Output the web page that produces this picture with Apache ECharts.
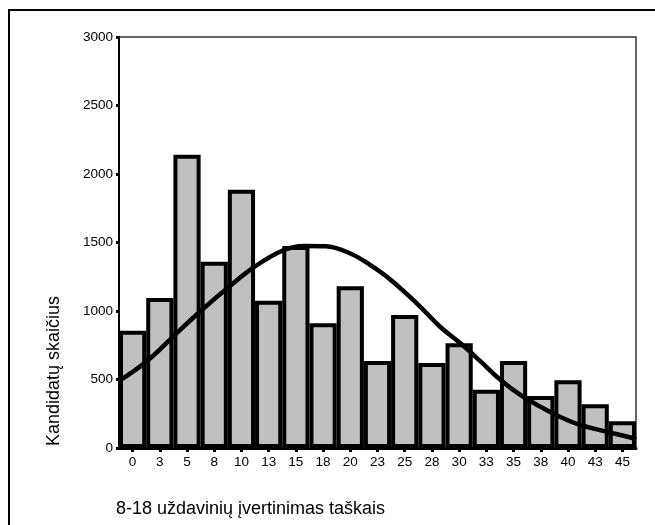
<!DOCTYPE html>
<html>
<head>
<meta charset="utf-8">
<script src="https://cdn.jsdelivr.net/npm/echarts@6/dist/echarts.min.js"></script>
<style>
html,body{margin:0;padding:0;background:#fff;}
#chart{width:655px;height:525px;}
</style>
</head>
<body>
<div id="chart"></div>
<script>
// Data
const categories = ['0','3','5','8','10','13','15','18','20','23','25','28','30','33','35','38','40','43','45'];
const counts = [855, 1095, 2140, 1360, 1885, 1075, 1475, 910, 1180, 635, 970, 620, 765, 425, 635, 380, 495, 320, 195];
// Normal curve points: [position in bar units (0..19), value]
const curveX = [0, 1, 2, 3, 4, 5, 6, 6.8, 7.6, 8.5, 9.2, 10, 11, 11.8, 12.55, 13.3, 14, 14.75, 15.5, 16.2, 16.95, 17.9, 18.9, 19];
const curveY = [490, 630, 815, 1000, 1170, 1325, 1440, 1475, 1472, 1420, 1340, 1225, 1045, 885, 764, 630, 500, 387, 300, 228, 168, 120, 71, 62];
const yTicks = {min: 0, max: 3000, interval: 500};
const xTitle = '8-18 uždavinių įvertinimas taškais';
const yTitle = 'Kandidatų skaičius';

const curveData = curveX.map((x, i) => [x, curveY[i]]);
const FONT = '"Liberation Sans", Arial, sans-serif';

const chart = echarts.init(document.getElementById('chart'), null, {renderer: 'canvas'});
chart.setOption({
  animation: false,
  backgroundColor: '#fff',
  grid: {left: 119, right: 19, top: 37, bottom: 77, show: true, borderColor: '#333', borderWidth: 1.5, backgroundColor: 'transparent'},
  xAxis: [{
    type: 'category',
    data: categories,
    boundaryGap: true,
    axisLine: {show: true, lineStyle: {color: '#000', width: 3}},
    axisTick: {show: true, alignWithLabel: true, length: 4, lineStyle: {color: '#000', width: 3}},
    axisLabel: {color: '#000', fontSize: 13.5, fontFamily: FONT, margin: 7, interval: 0},
    splitLine: {show: false}
  }, {
    type: 'value',
    min: 0, max: 19,
    show: false
  }],
  yAxis: {
    type: 'value',
    min: yTicks.min, max: yTicks.max, interval: yTicks.interval,
    axisLine: {show: true, lineStyle: {color: '#000', width: 2}},
    axisTick: {show: true, length: 3, lineStyle: {color: '#000', width: 3}},
    axisLabel: {color: '#000', fontSize: 13.5, fontFamily: FONT, margin: 6, formatter: v => String(v)},
    splitLine: {show: false}
  },
  series: [{
    type: 'bar',
    data: counts,
    xAxisIndex: 0,
    barCategoryGap: 0,
    itemStyle: {color: '#c0c0c0', borderColor: '#000', borderWidth: 4},
    z: 2
  }, {
    type: 'line',
    data: curveData,
    xAxisIndex: 1,
    smooth: 0.4,
    symbol: 'none',
    lineStyle: {color: '#000', width: 4.5},
    z: 3
  }],
  graphic: [{
    type: 'rect',
    shape: {x: 9, y: 10, width: 700, height: 600},
    style: {fill: 'none', stroke: '#000', lineWidth: 2},
    silent: true
  }, {
    type: 'text',
    x: 54, y: 371,
    rotation: Math.PI / 2,
    style: {text: yTitle, fill: '#000', font: '18px ' + FONT, textAlign: 'center', textVerticalAlign: 'middle'}
  }, {
    type: 'text',
    x: 116, y: 509,
    style: {text: xTitle, fill: '#000', font: '18px ' + FONT, textAlign: 'left', textVerticalAlign: 'middle'}
  }]
});
</script>
</body>
</html>
